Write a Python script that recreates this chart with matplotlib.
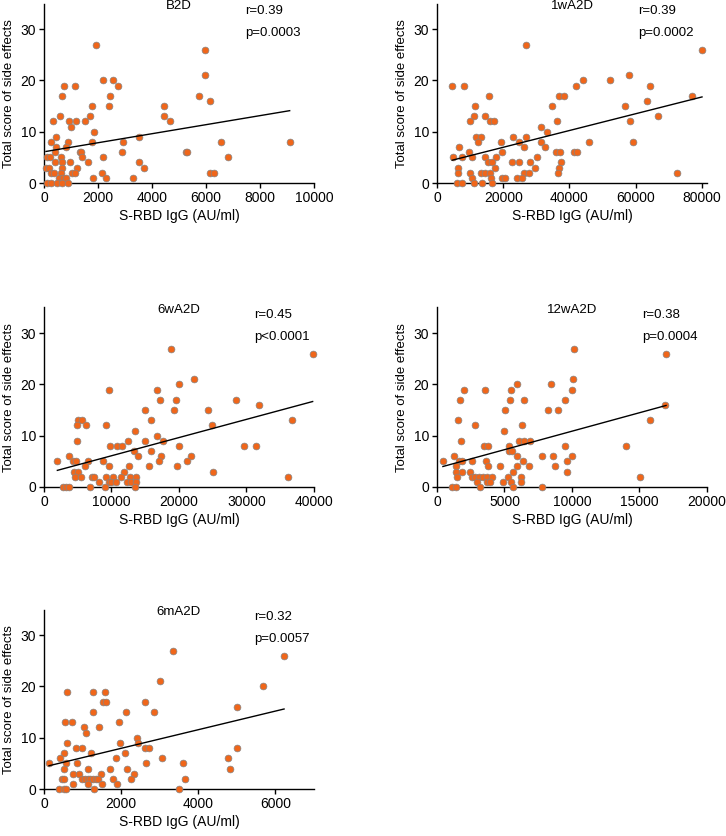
import numpy as np
import matplotlib
matplotlib.use("Agg")
import matplotlib.pyplot as plt

plt.rcParams['font.family'] = ['Liberation Sans', 'DejaVu Sans']

# ---- data ----
titles = ['B2D', '1wA2D', '6wA2D', '12wA2D', '6mA2D']
r_text = ['r=0.39', 'r=0.39', 'r=0.45', 'r=0.38', 'r=0.32']
p_text = ['p=0.0003', 'p=0.0002', 'p<0.0001', 'p=0.0004', 'p=0.0057']
xmax = [10000, 81500, 40000, 20000, 7000]
xticks = [[0, 2000, 4000, 6000, 8000, 10000],
          [0, 20000, 40000, 60000, 80000],
          [0, 10000, 20000, 30000, 40000],
          [0, 5000, 10000, 15000, 20000],
          [0, 2000, 4000, 6000]]

b2d_x = [1938, 5975, 5975, 741, 1160, 2185, 2568, 2753, 654, 2457, 5728, 6148,
         1765, 2420, 4444, 1716, 580, 4457, 333, 938, 1185, 1518, 4654, 988,
         444, 3506, 1852, 247, 877, 1765, 2938, 6568, 9099, 457, 802, 1321,
         407, 1370, 2889, 5259, 5309, 111, 210, 630, 1407, 2185, 6827, 395,
         679, 963, 1642, 3506, 74, 173, 679, 1210, 3704, 272, 370, 630, 1037,
         1160, 2148, 6148, 6284, 543, 704, 815, 1815, 2284, 3296, 100, 272,
         494, 654, 889]
b2d_y = [27, 26, 21, 19, 19, 20, 20, 19, 17, 17, 17, 16,
         15, 15, 15, 13, 13, 13, 12, 12, 12, 12, 12, 11,
         9, 9, 10, 8, 8, 8, 8, 8, 8, 7, 7, 6,
         6, 6, 6, 6, 6, 5, 5, 5, 5, 5, 5, 4,
         4, 4, 4, 4, 3, 3, 3, 3, 3, 2, 2, 2, 2,
         2, 2, 2, 2, 1, 1, 1, 1, 1, 1, 0, 0,
         0, 0, 0]

w1_x = [27000, 80000, 58000, 44000, 52200, 4600, 8200, 42000, 64200, 15700,
        36800, 38300, 77000, 63300, 11500, 34700, 56700, 11300, 14600, 66600,
        10000, 16100, 17200, 36300, 58200, 31500, 33200, 11700, 13400, 23000,
        26800, 12400, 19200, 24800, 31500, 46000, 59300, 6600, 26400, 32500,
        9700, 19700, 35800, 37000, 41500, 42400, 4800, 7500, 10600, 14400,
        17800, 30300, 15300, 16600, 22600, 24800, 28100, 37300, 6400, 17500,
        29700, 36700, 6300, 10100, 13300, 14400, 15900, 26200, 27700, 36600,
        72300, 10700, 16400, 19600, 20600, 24100, 25800, 6000, 7600, 11300,
        13700, 16500]
w1_y = [27, 26, 21, 20, 20, 19, 19, 19, 19, 17,
        17, 17, 17, 16, 15, 15, 15, 13, 13, 13,
        12, 12, 12, 12, 12, 11, 10, 9, 9, 9,
        9, 8, 8, 8, 8, 8, 8, 7, 7, 7,
        6, 6, 6, 6, 6, 6, 5, 5, 5, 5,
        5, 5, 4, 4, 4, 4, 4, 4, 3, 3,
        3, 3, 2, 2, 2, 2, 2, 2, 2, 2,
        2, 1, 1, 1, 1, 1, 1, 0, 0, 0,
        0, 0]

w6_x = [18830, 39800, 22200, 20000, 16800, 9600, 17200, 19500, 28400, 31800,
        14900, 19200, 24300, 5040, 5680, 15900, 36700, 4890, 6180, 9190,
        24900, 13500, 16700, 4890, 12500, 14900, 17700, 9790, 10780, 11570,
        20000, 29560, 31390, 13300, 15870, 3760, 13940, 17400, 21750, 1980,
        4300, 4800, 6480, 8800, 17000, 21200, 6130, 9590, 12600, 15570,
        19770, 4400, 5090, 11800, 25100, 4650, 5440, 7120, 7410, 9140,
        10280, 11420, 12800, 13700, 36200, 8160, 9640, 10000, 10680, 12310,
        12950, 13590, 2820, 3310, 3660, 6870, 9000, 13500]
w6_y = [27, 26, 21, 20, 19, 19, 17, 17, 17, 16,
        15, 15, 15, 13, 13, 13, 13, 12, 12, 12,
        12, 11, 10, 9, 9, 9, 9, 8, 8, 8,
        8, 8, 8, 7, 7, 6, 6, 6, 6, 5,
        5, 5, 5, 5, 5, 5, 4, 4, 4, 4,
        4, 3, 3, 3, 3, 2, 2, 2, 2, 2,
        2, 2, 2, 2, 2, 1, 1, 1, 1, 1,
        1, 1, 0, 0, 0, 0, 0, 0]

w12_x = [10160, 16970, 10060, 8410, 5950, 1970, 3590, 5490, 9990, 1700,
         5390, 6470, 9470, 16880, 5020, 8190, 8930, 1530, 15770, 2800,
         6270, 4990, 1800, 6100, 6420, 6910, 3470, 3790, 5360, 9450,
         14020, 5310, 5580, 1250, 5900, 7800, 8630, 9990, 440, 1620,
         1890, 2630, 3640, 6370, 9620, 1400, 3790, 4670, 5930, 6810,
         8710, 1430, 1840, 2460, 5660, 9620, 1500, 2560, 2800, 3120,
         3390, 3670, 4110, 5290, 6250, 15060, 3000, 3710, 3940, 4920,
         5460, 6220, 1080, 1380, 3200, 5610, 7770]
w12_y = [27, 26, 21, 20, 20, 19, 19, 19, 19, 17,
         17, 17, 17, 16, 15, 15, 15, 13, 13, 12,
         12, 11, 9, 9, 9, 9, 8, 8, 8, 8,
         8, 7, 7, 6, 6, 6, 6, 6, 5, 5,
         5, 5, 5, 5, 5, 4, 4, 4, 4, 4,
         4, 3, 3, 3, 3, 3, 2, 2, 2, 2,
         2, 2, 2, 2, 2, 2, 1, 1, 1, 1,
         1, 1, 0, 0, 0, 0, 0]

m6_x = [3353, 6224, 3009, 5681, 595, 1276, 1586, 1526, 1595, 2629,
        5000, 534, 734, 1957, 1267, 2130, 2845, 1043, 1431, 1086,
        586, 1983, 2422, 2440, 836, 991, 2630, 2733, 5000, 517,
        1225, 2112, 405, 1854, 3061, 4767, 129, 569, 862, 2647,
        3594, 517, 1138, 1716, 2164, 4819, 750, 905, 1466, 2345,
        466, 517, 991, 1060, 1138, 1198, 1267, 1336, 1405, 1784,
        2259, 3647, 741, 1138, 1508, 1888, 388, 526, 578, 1293, 3491]
m6_y = [27, 26, 21, 20, 19, 19, 19, 17, 17, 17,
        16, 13, 13, 13, 15, 15, 15, 12, 12, 11,
        9, 9, 10, 9, 8, 8, 8, 8, 8, 7,
        7, 7, 6, 6, 6, 6, 5, 5, 5, 5,
        5, 4, 4, 4, 4, 4, 3, 3, 3, 3,
        2, 2, 2, 2, 2, 2, 2, 2, 2, 2,
        2, 2, 1, 1, 1, 1, 0, 0, 0, 0, 0]

xs = [b2d_x, w1_x, w6_x, w12_x, m6_x]
ys = [b2d_y, w1_y, w6_y, w12_y, m6_y]

# ---- layout ----
fig = plt.figure(figsize=(7.26, 8.36), dpi=100)
lefts = [0.0606, 0.6019]
bottoms = [0.7811, 0.4175, 0.0562]
w, h = 0.3719, 0.2147
r_xpos = [0.744, 0.745, 0.78, 0.76, 0.78]

for i in range(5):
    ax = fig.add_axes([lefts[i % 2], bottoms[i // 2], w, h])
    x = np.array(xs[i], dtype=float)
    y = np.array(ys[i], dtype=float)

    ax.scatter(x, y, s=24, color='#F0661A', edgecolor='#858585', linewidth=0.5,
               zorder=3, clip_on=False)

    # linear fit
    k, b = np.polyfit(x, y, 1)
    xx = np.array([x.min(), x.max()])
    ax.plot(xx, k * xx + b, color='black', lw=1.0, zorder=4)

    ax.set_xlim(0, xmax[i])
    ax.set_ylim(0, 35)
    ax.set_xticks(xticks[i])
    ax.set_yticks([0, 10, 20, 30])
    ax.spines['top'].set_visible(False)
    ax.spines['right'].set_visible(False)
    for s in ['left', 'bottom']:
        ax.spines[s].set_linewidth(1.0)
    ax.tick_params(labelsize=10, length=3.5, width=1.0, pad=2)
    ax.set_xlabel('S-RBD IgG (AU/ml)', fontsize=10, labelpad=3)
    ax.set_ylabel('Total score of side effects', fontsize=9.5, labelpad=4)

    ax.text(0.5, 0.985, titles[i], transform=ax.transAxes, ha='center', va='center', fontsize=9.5)
    ax.text(r_xpos[i], 0.96, r_text[i], transform=ax.transAxes, ha='left', va='center', fontsize=9.5)
    ax.text(r_xpos[i], 0.835, p_text[i], transform=ax.transAxes, ha='left', va='center', fontsize=9.5)

plt.savefig('out.png', dpi=100)
